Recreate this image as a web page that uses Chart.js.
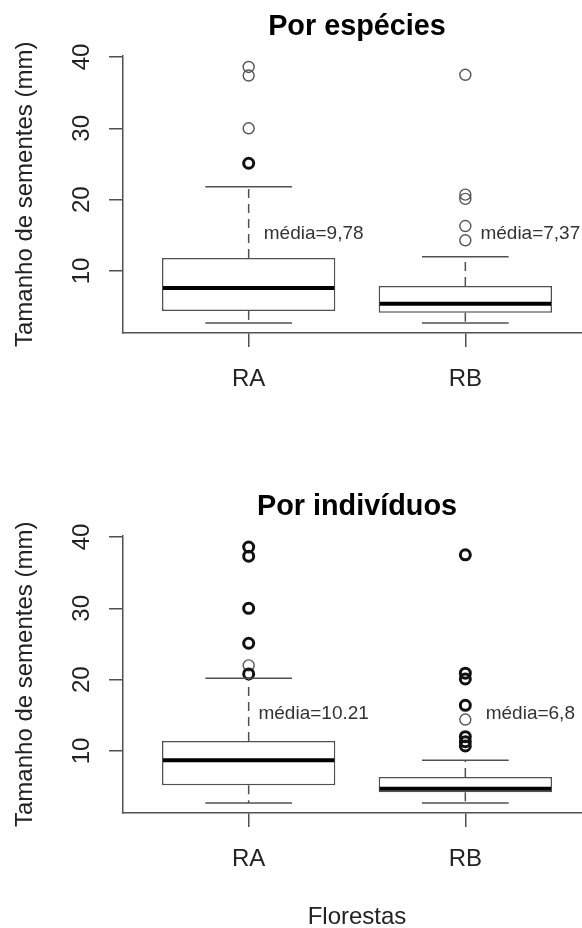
<!DOCTYPE html>
<html><head><meta charset="utf-8">
<script src="https://cdn.jsdelivr.net/npm/chart.js@4.4.1/dist/chart.umd.min.js"></script>
<style>
html,body{margin:0;padding:0;background:#fff;overflow:hidden;width:582px;height:928px;}
.p{position:absolute;left:0;width:640px;}
canvas{display:block;}
</style></head><body>
<div class="p" style="top:0;height:480px"><canvas id="c1"></canvas></div>
<div class="p" style="top:480px;height:470px"><canvas id="c2"></canvas></div>
<script>
// ---- data ----
const categories = ['RA', 'RB'];
const yTicks = [10, 20, 30, 40];

// Por espécies
const spLower  = [2.7, 2.7];
const spQ1     = [4.4, 4.15];
const spMedian = [7.6, 5.4];
const spQ3     = [11.8, 7.9];
const spUpper  = [21.8, 12.0];
const spOutRA  = [38.6, 37.4, 30.0, 25.1, 25.1];
const spOutRB  = [37.5, 20.7, 20.1, 16.3, 14.3];
const spLabels = ['média=9,78', 'média=7,37'];

// Por indivíduos
const inLower  = [2.7, 2.7];
const inQ1     = [5.2, 4.2];
const inMedian = [8.7, 4.7];
const inQ3     = [11.4, 6.35];
const inUpper  = [20.2, 8.7];
const inOutRA  = [38.6, 38.6, 37.3, 37.3, 30.0, 30.0, 30.0, 25.1, 25.1, 25.1, 22.0, 20.8, 20.8, 20.8];
const inOutRB  = [37.5, 37.5, 37.5, 20.9, 20.9, 20.1, 20.1, 16.4, 16.4, 14.4, 12.0, 12.0, 11.3, 11.3, 10.7, 10.7];
const inLabels = ['média=10.21', 'média=6,8'];

// ---- style / layout constants ----
const FONT = '"Liberation Sans", Arial, Helvetica, sans-serif';
const LINE = '#505050';
const LABEL_DX = 0.3;   // mean label offset (x units)
const LABEL_Y = 15.2;   // mean label height (y units)
const CHART_LEFT = 123, CHART_BOTTOM = 333, CHART_RIGHT = 591;

Chart.defaults.font.family = FONT;
Chart.defaults.color = '#222';

function groupCounts(vals, xv) {
  const m = new Map();
  vals.forEach(v => m.set(v, (m.get(v) || 0) + 1));
  return [...m].map(([v, n]) => ({x: xv, y: v, n: n}));
}

function makeBoxPlugin(st) {
  return {
    id: 'boxStats',
    afterDatasetsDraw(chart) {
      const {ctx} = chart;
      const xs = chart.scales.x, ys = chart.scales.y;
      const meta = chart.getDatasetMeta(0);
      const seg = (x1, y1, x2, y2) => { ctx.beginPath(); ctx.moveTo(x1, y1); ctx.lineTo(x2, y2); ctx.stroke(); };
      ctx.save();
      st.median.forEach((m, i) => {
        const bar = meta.data[i];
        const cx = bar.x, w = bar.width;
        ctx.strokeStyle = LINE; ctx.lineWidth = 1.5;
        ctx.setLineDash([9, 6]);
        seg(cx, ys.getPixelForValue(st.q3[i]), cx, ys.getPixelForValue(st.upper[i]));
        seg(cx, ys.getPixelForValue(st.q1[i]), cx, ys.getPixelForValue(st.lower[i]));
        ctx.setLineDash([]);
        seg(cx - w / 4, ys.getPixelForValue(st.upper[i]), cx + w / 4, ys.getPixelForValue(st.upper[i]));
        seg(cx - w / 4, ys.getPixelForValue(st.lower[i]), cx + w / 4, ys.getPixelForValue(st.lower[i]));
        ctx.strokeStyle = '#000'; ctx.lineWidth = 4;
        seg(cx - w / 2 + 1, ys.getPixelForValue(m), cx + w / 2 - 1, ys.getPixelForValue(m));
        ctx.fillStyle = '#333';
        ctx.font = '19px ' + FONT;
        ctx.textAlign = 'center'; ctx.textBaseline = 'middle';
        ctx.fillText(st.labels[i], xs.getPixelForValue(i + 1 + LABEL_DX), ys.getPixelForValue(LABEL_Y));
      });
      ctx.restore();
    }
  };
}

function buildConfig(H, titleText, st, xTitle) {
  const pts = [].concat(...st.outliers.map((arr, i) => groupCounts(arr, i + 1)));
  return {
    type: 'bar',
    data: {
      datasets: [
        {
          type: 'bar',
          data: categories.map((c, i) => ({x: i + 1, y: [st.q1[i], st.q3[i]]})),
          backgroundColor: '#ffffff',
          borderColor: LINE,
          borderWidth: 1.5,
          borderSkipped: false,
          categoryPercentage: 1,
          barPercentage: 0.8
        },
        {
          type: 'scatter',
          data: pts,
          pointStyle: 'circle',
          pointRadius: c => (c.raw && c.raw.n > 1) ? 5 : 5.5,
          pointBorderWidth: c => (c.raw && c.raw.n > 1) ? 3 : 1.4,
          pointBorderColor: c => (c.raw && c.raw.n > 1) ? '#111' : '#555',
          pointBackgroundColor: 'rgba(0,0,0,0)'
        }
      ]
    },
    options: {
      responsive: false,
      maintainAspectRatio: false,
      devicePixelRatio: 1,
      animation: false,
      events: [],
      layout: {padding: 0},
      plugins: {
        legend: {display: false},
        tooltip: {enabled: false},
        title: {
          display: true, text: titleText, fullSize: false, color: '#000',
          font: {size: 28.8, weight: 'bold', family: FONT},
          padding: {top: 10.2, bottom: 10.8}
        }
      },
      scales: {
        x: {
          type: 'linear', min: 0.42, max: 2.58, offset: false,
          afterBuildTicks: s => { s.ticks = categories.map((c, i) => ({value: i + 1})); },
          afterFit: s => { s.height = H - CHART_BOTTOM; s.paddingLeft = 0; s.paddingRight = 0; },
          ticks: {callback: (v, i) => categories[i], font: {size: 24}, padding: 17.6, color: '#222', maxRotation: 0},
          grid: {drawOnChartArea: false, offset: false, color: LINE, lineWidth: 1.5, tickLength: 14},
          border: {display: true, color: LINE, width: 1.5},
          title: xTitle ? {display: true, text: xTitle, font: {size: 24}, color: '#222', padding: {top: 0, bottom: 18.1}} : {display: false}
        },
        y: {
          type: 'linear', min: 1.3, max: 40.2, beginAtZero: false,
          afterBuildTicks: s => { s.ticks = yTicks.map(v => ({value: v})); },
          afterFit: s => { s.width = CHART_LEFT; },
          ticks: {font: {size: 24}, minRotation: 90, maxRotation: 90, crossAlign: 'center', padding: 13.4, color: '#222'},
          grid: {drawOnChartArea: false, color: LINE, lineWidth: 1.5, tickLength: 14},
          border: {display: true, color: LINE, width: 1.5},
          title: {display: true, text: 'Tamanho de sementes (mm)', font: {size: 24}, color: '#222', padding: {top: 10.6, bottom: 0}}
        }
      }
    },
    plugins: [makeBoxPlugin(st)]
  };
}

function makeChart(id, H, titleText, st, xTitle) {
  const cv = document.getElementById(id);
  let W = CHART_RIGHT;
  let chart = null;
  for (let pass = 0; pass < 3; pass++) {
    cv.width = W; cv.height = H;
    cv.style.width = W + 'px'; cv.style.height = H + 'px';
    chart = new Chart(cv, buildConfig(H, titleText, st, xTitle));
    const diff = CHART_RIGHT - chart.chartArea.right;
    if (Math.abs(diff) < 0.01) break;
    chart.destroy();
    W = W + diff;
  }
  return chart;
}

makeChart('c1', 480, 'Por espécies',
  {lower: spLower, q1: spQ1, median: spMedian, q3: spQ3, upper: spUpper, outliers: [spOutRA, spOutRB], labels: spLabels}, null);
makeChart('c2', 470, 'Por indivíduos',
  {lower: inLower, q1: inQ1, median: inMedian, q3: inQ3, upper: inUpper, outliers: [inOutRA, inOutRB], labels: inLabels}, 'Florestas');
</script>
</body></html>
